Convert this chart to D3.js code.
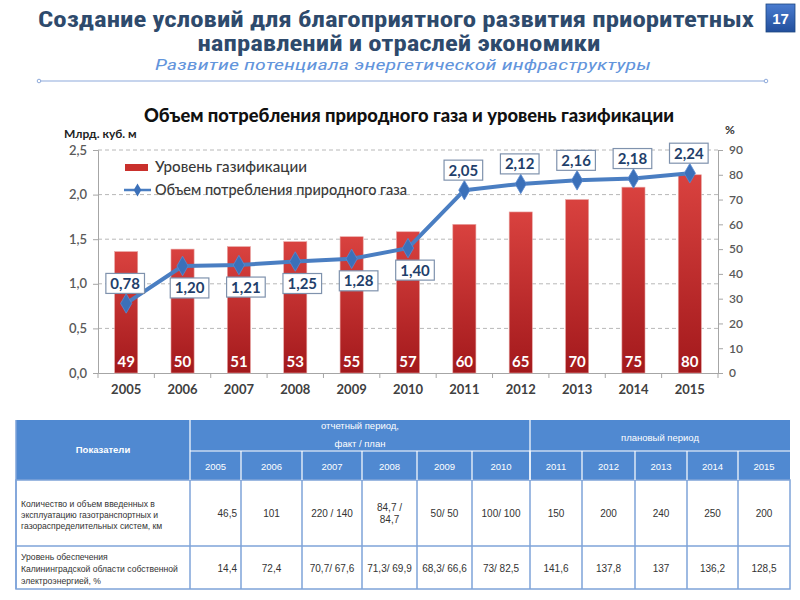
<!DOCTYPE html>
<html><head><meta charset="utf-8">
<script src="https://cdn.jsdelivr.net/npm/d3@7/dist/d3.min.js"></script>
<style>
html,body{margin:0;padding:0;background:#fff;}
svg{display:block;}
</style></head>
<body><svg id="c" width="800" height="600"></svg>
<script>
// ---------- data ----------
const years = ["2005","2006","2007","2008","2009","2010","2011","2012","2013","2014","2015"];
const gasLevel = [49,50,51,53,55,57,60,65,70,75,80];            // %
const gasVolume = [0.78,1.20,1.21,1.25,1.28,1.40,2.05,2.12,2.16,2.18,2.24]; // млрд. куб. м
const leftTicks = [0,0.5,1.0,1.5,2.0,2.5];
const rightTicks = [0,10,20,30,40,50,60,70,80,90];
const slideTitle = ["Создание условий для благоприятного развития приоритетных","направлений и отраслей экономики"];
const slideSubtitle = "Развитие потенциала энергетической  инфраструктуры";
const chartTitle = "Объем потребления природного газа и уровень газификации";
const legendNames = ["Уровень газификации","Объем потребления природного газа"];
const tableHead = ["Показатели","отчетный период,","факт / план","плановый период"];
const rowLabels = [
  ["Количество и объем введенных в","эксплуатацию газотранспортных и","газораспределительных систем, км"],
  ["Уровень обеспечения","Калининградской области собственной","электроэнергией, %"]
];
const row1Values = ["46,5","101","220 / 140","84,7 /\n84,7","50/ 50","100/ 100","150","200","240","250","200"];
const row2Values = ["14,4","72,4","70,7/ 67,6","71,3/ 69,9","68,3/ 66,6","73/ 82,5","141,6","137,8","137","136,2","128,5"];

// ---------- helpers ----------
const svg = d3.select("#c");
const fmt = v => d3.format(".2f")(v).replace(".", ",");
const fmt1 = v => d3.format(".1f")(v).replace(".", ",");
const defs = svg.append("defs");
const g1 = defs.append("linearGradient").attr("id","barGrad").attr("x1",0).attr("y1",0).attr("x2",0).attr("y2",1);
g1.append("stop").attr("offset","0%").attr("stop-color","#d9423f");
g1.append("stop").attr("offset","100%").attr("stop-color","#a3191c");
const g2 = defs.append("linearGradient").attr("id","badgeGrad").attr("x1",0).attr("y1",0).attr("x2",0).attr("y2",1);
g2.append("stop").attr("offset","0%").attr("stop-color","#4a7cd0");
g2.append("stop").attr("offset","100%").attr("stop-color","#224f9c");

// ---------- slide header ----------
const titleFont = "'Liberation Sans Narrow','Roboto Condensed','Arial Narrow','Liberation Sans',sans-serif";
svg.append("text").attr("x",396).attr("y",27).attr("text-anchor","middle")
  .attr("font-family",titleFont).attr("font-weight","bold").attr("font-size",22)
  .attr("fill","#2e4a6c").attr("textLength",716).attr("lengthAdjust","spacingAndGlyphs")
  .text(slideTitle[0]);
svg.append("text").attr("x",399).attr("y",51).attr("text-anchor","middle")
  .attr("font-family",titleFont).attr("font-weight","bold").attr("font-size",22)
  .attr("fill","#2e4a6c").attr("textLength",403).attr("lengthAdjust","spacingAndGlyphs")
  .text(slideTitle[1]);
svg.append("text").attr("x",403).attr("y",70).attr("text-anchor","middle")
  .attr("font-family",titleFont).attr("font-style","italic").attr("font-size",15)
  .attr("fill","#6395dc").attr("textLength",496).attr("lengthAdjust","spacingAndGlyphs")
  .text(slideSubtitle);
svg.append("line").attr("x1",39).attr("x2",766).attr("y1",81).attr("y2",81)
  .attr("stroke","#8eaadb").attr("stroke-width",1.2);
[39,766].forEach(x=>svg.append("circle").attr("cx",x).attr("cy",81).attr("r",1.8)
  .attr("fill","#fff").attr("stroke","#8eaadb").attr("stroke-width",1));
svg.append("rect").attr("x",766).attr("y",4).attr("width",29).attr("height",28)
  .attr("fill","url(#badgeGrad)").attr("stroke","#1d467f").attr("stroke-width",0.8);
svg.append("text").attr("x",780.5).attr("y",24).attr("text-anchor","middle")
  .attr("font-family","'Liberation Sans',Arial,sans-serif").attr("font-weight","bold")
  .attr("font-size",15).attr("fill","#fff").text("17");

// ---------- chart ----------
const cf = "Lato,'Open Sans',sans-serif";
const x0 = 98, x1 = 718, yTop = 150, yBot = 373;
const x = d3.scaleBand().domain(years).range([x0,x1]).paddingInner(0.59).paddingOuter(0.295);
const yL = d3.scaleLinear().domain([0,2.5]).range([yBot,yTop]);
const yR = d3.scaleLinear().domain([0,90]).range([yBot,yTop]);

svg.append("text").attr("x",409).attr("y",122).attr("text-anchor","middle")
  .attr("font-family",cf).attr("font-weight","900").attr("font-size",18).attr("fill","#111")
  .attr("textLength",530).attr("lengthAdjust","spacingAndGlyphs").text(chartTitle);
svg.append("text").attr("x",64).attr("y",138).attr("font-family",cf).attr("font-weight","bold")
  .attr("font-size",12).attr("fill","#222").text("Млрд. куб. м");
svg.append("text").attr("x",725).attr("y",134).attr("font-family",cf).attr("font-weight","bold")
  .attr("font-size",12).attr("fill","#333").text("%");

// gridlines (dashed, at left ticks)
svg.append("g").selectAll("line").data(leftTicks.filter(d=>d>0)).join("line")
  .attr("x1",x0).attr("x2",x1).attr("y1",d=>yL(d)).attr("y2",d=>yL(d))
  .attr("stroke","#b8b8b8").attr("stroke-width",1).attr("stroke-dasharray","4,3");

// left axis
const axL = svg.append("g").attr("transform",`translate(${x0},0)`)
  .call(d3.axisLeft(yL).tickValues(leftTicks).tickFormat(fmt1).tickSize(5).tickPadding(6));
axL.select(".domain").attr("stroke","#a6a6a6");
axL.selectAll(".tick line").attr("stroke","#a6a6a6");
axL.selectAll("text").attr("font-family",cf).attr("font-size",13).attr("fill","#595959").attr("font-weight","600");

// right axis
const axR = svg.append("g").attr("transform",`translate(${x1},0)`)
  .call(d3.axisRight(yR).tickValues(rightTicks).tickSize(5).tickPadding(6));
axR.select(".domain").attr("stroke","#a6a6a6");
axR.selectAll(".tick line").attr("stroke","#a6a6a6");
axR.selectAll("text").attr("font-family",cf).attr("font-size",12).attr("fill","#595959").attr("font-weight","600");

// bottom axis
const axB = svg.append("g").attr("transform",`translate(0,${yBot})`)
  .call(d3.axisBottom(x).tickSize(0).tickPadding(12));
axB.select(".domain").attr("stroke","#a6a6a6");
axB.selectAll("text").attr("font-family",cf).attr("font-size",13).attr("font-weight","bold").attr("fill","#404040");
const step = x.step();
svg.append("g").selectAll("line").data(d3.range(years.length+1)).join("line")
  .attr("x1",i=>x0+i*step).attr("x2",i=>x0+i*step).attr("y1",yBot).attr("y2",yBot+5)
  .attr("stroke","#a6a6a6");

// bars
svg.append("g").selectAll("rect").data(gasLevel).join("rect")
  .attr("x",(d,i)=>x(years[i])).attr("width",x.bandwidth())
  .attr("y",d=>yR(d)).attr("height",d=>yBot-yR(d))
  .attr("fill","url(#barGrad)").attr("stroke","#e8a6a4").attr("stroke-width",0.6);
svg.append("g").selectAll("text").data(gasLevel).join("text")
  .attr("x",(d,i)=>x(years[i])+x.bandwidth()/2).attr("y",yBot-6)
  .attr("text-anchor","middle").attr("font-family",cf).attr("font-weight","bold")
  .attr("font-size",15).attr("fill","#fff").text(d=>d);

// line
const cx = i => x(years[i]) + x.bandwidth()/2;
svg.append("path").datum(gasVolume)
  .attr("d", d3.line().x((d,i)=>cx(i)).y(d=>yL(d)))
  .attr("fill","none").attr("stroke","#4a7ec2").attr("stroke-width",4).attr("stroke-linejoin","round");
svg.append("g").selectAll("path").data(gasVolume).join("path")
  .attr("transform",(d,i)=>`translate(${cx(i)},${yL(d)})`)
  .attr("d", d3.symbol().type(d3.symbolDiamond).size(110))
  .attr("fill","#3b70b9").attr("stroke","#5a8ad0").attr("stroke-width",0.8);

// value labels on the line
const labG = svg.append("g");
gasVolume.forEach((v,i)=>{
  const above = (i===0 || i>=6);
  const lx = cx(i) + (above ? -1 : 7);
  const ly = yL(v) + (above ? -20 : 22);
  const grp = labG.append("g");
  const t = grp.append("text").attr("x",lx).attr("y",ly+5.5).attr("text-anchor","middle")
    .attr("font-family",cf).attr("font-weight","bold").attr("font-size",15).attr("fill","#1f3f6b")
    .text(fmt(v));
  const w = t.node().getComputedTextLength() + 9;
  grp.insert("rect","text").attr("x",lx-w/2).attr("y",ly-10).attr("width",w).attr("height",20)
    .attr("fill","#fff").attr("stroke","#7f92ad").attr("stroke-width",1.2);
});

// legend
svg.append("rect").attr("x",125).attr("y",164).attr("width",23).attr("height",7).attr("fill","#c9302c");
svg.append("text").attr("x",155).attr("y",172).attr("font-family",cf).attr("font-size",14.5).attr("font-weight","500")
  .attr("fill","#3a3a3a").attr("textLength",152).attr("lengthAdjust","spacingAndGlyphs").text(legendNames[0]);
svg.append("line").attr("x1",124).attr("x2",151).attr("y1",190).attr("y2",190)
  .attr("stroke","#4a7ec2").attr("stroke-width",2.5);
svg.append("path").attr("transform","translate(137.5,190)")
  .attr("d", d3.symbol().type(d3.symbolDiamond).size(50)).attr("fill","#3b70b9");
svg.append("text").attr("x",155).attr("y",195).attr("font-family",cf).attr("font-size",14.5).attr("font-weight","500")
  .attr("fill","#3a3a3a").attr("textLength",252).attr("lengthAdjust","spacingAndGlyphs").text(legendNames[1]);

// ---------- table ----------
const tf = "'Liberation Sans',Arial,sans-serif";
const colEdges = [16,190,241,302,362,417,472,530,582,635,687,738,790];
const yH0 = 420, yH1 = 451, yH2 = 480, yR1 = 546, yR2 = 589;
const head = "#5089d1", border = "#7ea3d8";
const tg = svg.append("g");
tg.append("rect").attr("x",colEdges[0]).attr("y",yH0).attr("width",colEdges[12]-colEdges[0]).attr("height",yH2-yH0).attr("fill",head);
tg.append("rect").attr("x",colEdges[0]).attr("y",yH2).attr("width",colEdges[12]-colEdges[0]).attr("height",yR2-yH2)
  .attr("fill","#fff").attr("stroke",border).attr("stroke-width",1.5);
tg.append("line").attr("x1",colEdges[1]).attr("x2",colEdges[12]).attr("y1",yH1).attr("y2",yH1).attr("stroke","#fff").attr("stroke-width",1.2);
tg.append("line").attr("x1",colEdges[1]).attr("x2",colEdges[1]).attr("y1",yH0).attr("y2",yH2).attr("stroke","#fff").attr("stroke-width",1.2);
tg.append("line").attr("x1",colEdges[7]).attr("x2",colEdges[7]).attr("y1",yH0).attr("y2",yH2).attr("stroke","#fff").attr("stroke-width",1.2);
colEdges.slice(2,12).forEach(e=>tg.append("line").attr("x1",e).attr("x2",e).attr("y1",yH1).attr("y2",yH2).attr("stroke","#fff").attr("stroke-width",1.2));
tg.append("line").attr("x1",colEdges[0]).attr("x2",colEdges[12]).attr("y1",yR1).attr("y2",yR1).attr("stroke",border).attr("stroke-width",1.5);
colEdges.slice(1,12).forEach(e=>tg.append("line").attr("x1",e).attr("x2",e).attr("y1",yH2).attr("y2",yR2).attr("stroke",border).attr("stroke-width",1.5));
tg.append("line").attr("x1",colEdges[0]).attr("x2",colEdges[0]).attr("y1",yH0).attr("y2",yR2).attr("stroke",border).attr("stroke-width",1.5);

const ht = (t,xx,yy,bold)=>tg.append("text").attr("x",xx).attr("y",yy).attr("text-anchor","middle")
  .attr("font-family",tf).attr("font-size",9.5).attr("font-weight",bold?"bold":"normal").attr("fill","#fff").text(t);
ht(tableHead[0],(colEdges[0]+colEdges[1])/2,453,true);
ht(tableHead[1],(colEdges[1]+colEdges[7])/2,429);
ht(tableHead[2],(colEdges[1]+colEdges[7])/2,447);
ht(tableHead[3],(colEdges[7]+colEdges[12])/2,441);
years.forEach((yv,i)=>ht(yv,(colEdges[i+1]+colEdges[i+2])/2,470));

rowLabels.forEach((lines,r)=>{
  const base = r===0 ? 507 : 560;
  const lh = r===0 ? 10.8 : 11.8;
  lines.forEach((ln,k)=>tg.append("text").attr("x",21).attr("y",base+k*lh)
    .attr("font-family",tf).attr("font-size",8.6).attr("fill","#333").text(ln));
});
[row1Values,row2Values].forEach((vals,r)=>{
  const yc = r===0 ? 517 : 572;
  vals.forEach((v,i)=>{
    const a = colEdges[i+1], b = colEdges[i+2];
    const parts = v.split("\n");
    parts.forEach((p,k)=>{
      const yy = yc + (k - (parts.length-1)/2)*12;
      tg.append("text").attr("x", i===0 ? b-4 : (a+b)/2).attr("y",yy)
        .attr("text-anchor", i===0 ? "end" : "middle")
        .attr("font-family",tf).attr("font-size",10).attr("fill","#333").text(p);
    });
  });
});
</script>
</body></html>
